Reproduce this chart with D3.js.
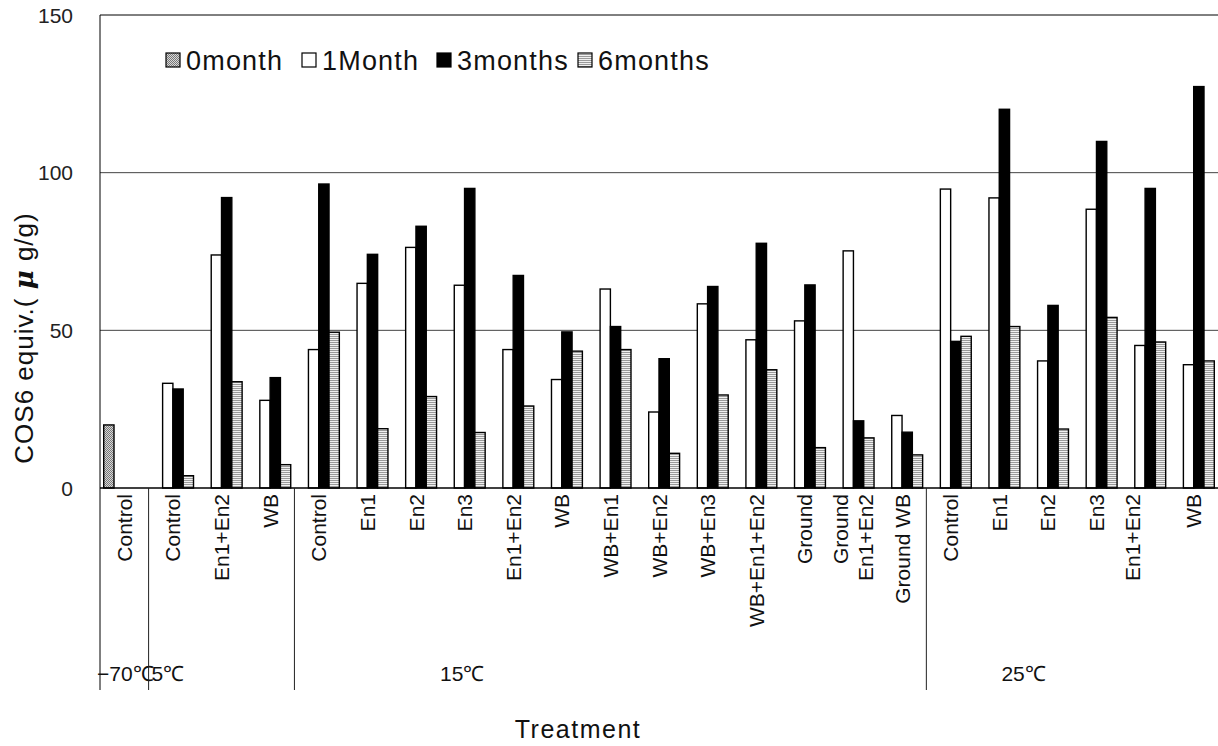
<!DOCTYPE html>
<html>
<head>
<meta charset="utf-8">
<script src="https://cdn.jsdelivr.net/npm/d3@7"></script>
<style>
  body { margin: 0; background: #fff; }
  svg { display: block; }
  text { font-family: "Liberation Sans", Arial, sans-serif; fill: #111; }
</style>
</head>
<body>
<svg id="chart" width="1218" height="746"></svg>
<script>
// Treatment labels (one entry per band; multi-line labels are arrays)
const categories = [
  "Control",
  "Control", "En1+En2", "WB",
  "Control", "En1", "En2", "En3", "En1+En2", "WB", "WB+En1", "WB+En2", "WB+En3",
  "WB+En1+En2", "Ground", ["Ground", "En1+En2"], "Ground WB",
  "Control", "En1", "En2", "En3", ["En1+En2", ""], "WB"
];

// Storage temperature groups and how many treatments each holds
const groupNames = ["\u221270\u2103", "5\u2103", "15\u2103", "25\u2103"];
const groupSizes = [1, 3, 13, 6];

const seriesNames = ["0month", "1Month", "3months", "6months"];

// COS6 equivalent (µg/g) per treatment
const month0 = [20, null, null, null, null, null, null, null, null, null, null, null, null, null, null, null, null, null, null, null, null, null, null];
const month1 = [null, 33.2, 73.9, 27.8, 43.9, 64.9, 76.3, 64.3, 43.9, 34.4, 63.1, 24.1, 58.4, 47.0, 53.0, 75.2, 23.0, 94.8, 92.0, 40.3, 88.4, 45.2, 39.1];
const month3 = [null, 31.4, 92.1, 35.0, 96.4, 74.1, 83.0, 95.0, 67.4, 49.5, 51.2, 41.0, 63.9, 77.6, 64.4, 21.3, 17.7, 46.5, 120.1, 57.9, 109.9, 95.0, 127.3];
const month6 = [null, 3.9, 33.7, 7.4, 49.4, 18.8, 29.0, 17.6, 26.0, 43.4, 43.9, 11.0, 29.5, 37.5, 12.8, 15.9, 10.5, 48.1, 51.2, 18.7, 54.1, 46.3, 40.3];

const yTicks = [0, 50, 100, 150];

const seriesValues = [month0, month1, month3, month6];

// ---- layout ----
const plot = { left: 100, right: 1218, top: 15, bottom: 488 };
const catAreaBottom = 690;
const groupLabelY = 673;
// band position (in band units) where each group's caption sits
const groupLabelBand = [null, null, 7.45, 19.0];
// legend swatch positions
const legendX = [166, 302, 437, 578];

const svg = d3.select("#chart");

const x = d3.scaleBand()
  .domain(d3.range(categories.length))
  .range([plot.left, plot.right])
  .padding(0);

const xs = d3.scaleBand()
  .domain(seriesNames)
  .range([0, x.bandwidth()])
  .paddingInner(0)
  .paddingOuter(0.36);

const y = d3.scaleLinear().domain([0, 150]).range([plot.bottom, plot.top]);

// ---- fill patterns ----
const defs = svg.append("defs");
const dots = defs.append("pattern")
  .attr("id", "dots").attr("patternUnits", "userSpaceOnUse")
  .attr("width", 2).attr("height", 2);
dots.append("rect").attr("width", 2).attr("height", 2).attr("fill", "#d8d8d8");
dots.append("rect").attr("width", 1).attr("height", 1).attr("fill", "#777");
dots.append("rect").attr("x", 1).attr("y", 1).attr("width", 1).attr("height", 1).attr("fill", "#777");

const stripes = defs.append("pattern")
  .attr("id", "stripes").attr("patternUnits", "userSpaceOnUse")
  .attr("width", 4).attr("height", 2);
stripes.append("rect").attr("width", 4).attr("height", 2).attr("fill", "#f0f0f0");
stripes.append("rect").attr("width", 4).attr("height", 1).attr("fill", "#9a9a9a");

const fills = {
  "0month": "url(#dots)",
  "1Month": "#ffffff",
  "3months": "#000000",
  "6months": "url(#stripes)"
};

// ---- gridlines ----
svg.append("g")
  .selectAll("line")
  .data(yTicks.filter(t => t > 0))
  .join("line")
  .attr("x1", plot.left).attr("x2", plot.right)
  .attr("y1", d => y(d)).attr("y2", d => y(d))
  .attr("stroke", d => d === 150 ? "#000" : "#444")
  .attr("stroke-width", 1);

// ---- bars ----
const barG = svg.append("g");
seriesNames.forEach((name, si) => {
  const data = seriesValues[si]
    .map((v, i) => ({ i, v }))
    .filter(d => d.v !== null);
  barG.append("g")
    .selectAll("rect")
    .data(data)
    .join("rect")
    .attr("x", d => x(d.i) + xs(name))
    .attr("width", xs.bandwidth())
    .attr("y", d => y(d.v))
    .attr("height", d => y(0) - y(d.v))
    .attr("fill", fills[name])
    .attr("stroke", "#000")
    .attr("stroke-width", 1.4);
});

// ---- axes lines ----
svg.append("line")
  .attr("x1", plot.left).attr("x2", plot.right)
  .attr("y1", y(0)).attr("y2", y(0))
  .attr("stroke", "#000").attr("stroke-width", 1.3);
svg.append("line")
  .attr("x1", plot.left).attr("x2", plot.left)
  .attr("y1", plot.top).attr("y2", catAreaBottom)
  .attr("stroke", "#000").attr("stroke-width", 1);

// ---- y tick labels ----
svg.append("g")
  .selectAll("text")
  .data(yTicks)
  .join("text")
  .attr("x", 73)
  .attr("y", d => y(d))
  .attr("dy", "0.36em")
  .attr("text-anchor", "end")
  .style("font-size", "21px")
  .style("fill", "#222")
  .text(d => d);

// ---- y title ----
const yTitle = svg.append("text")
  .attr("transform", "translate(33,338) rotate(-90)")
  .attr("text-anchor", "middle")
  .style("font-size", "26px")
  .style("letter-spacing", "1px");
yTitle.append("tspan").text("COS6 equiv.( ");
yTitle.append("tspan")
  .style("font-family", "'DejaVu Serif', serif")
  .style("font-style", "italic")
  .style("font-weight", "bold")
  .text("\u03bc");
yTitle.append("tspan").text(" g/g)");

// ---- category labels ----
const lineGap = 25;
const catG = svg.append("g");
categories.forEach((c, i) => {
  const lines = Array.isArray(c) ? c : [c];
  const cx = x(i) + x.bandwidth() / 2;
  lines.forEach((ln, li) => {
    const off = (li - (lines.length - 1) / 2) * lineGap;
    catG.append("text")
      .attr("transform", `translate(${cx + off},494) rotate(-90)`)
      .attr("text-anchor", "end")
      .attr("dy", "0.36em")
      .style("font-size", "21px")
      .text(ln);
  });
});

// ---- temperature groups ----
let start = 0;
const groupG = svg.append("g");
groupNames.forEach((g, gi) => {
  const x0 = x(start);
  if (gi > 0) {
    groupG.append("line")
      .attr("x1", x0).attr("x2", x0)
      .attr("y1", y(0)).attr("y2", catAreaBottom)
      .attr("stroke", "#222").attr("stroke-width", 1);
  }
  const t = groupG.append("text")
    .attr("y", groupLabelY)
    .attr("dy", "0.36em")
    .style("font-size", "21px")
    .text(g);
  if (groupLabelBand[gi] === null) {
    t.attr("x", x0 - 3 + (gi === 1 ? 6 : 0)).attr("text-anchor", "start");
  } else {
    t.attr("x", plot.left + groupLabelBand[gi] * x.step()).attr("text-anchor", "middle");
  }
  start += groupSizes[gi];
});

// ---- x title ----
svg.append("text")
  .attr("x", 578).attr("y", 738)
  .attr("text-anchor", "middle")
  .style("font-size", "25px")
  .style("letter-spacing", "1.5px")
  .text("Treatment");

// ---- legend ----
const legend = svg.append("g");
seriesNames.forEach((name, k) => {
  const lx = legendX[k];
  legend.append("rect")
    .attr("x", lx).attr("y", 53)
    .attr("width", 14).attr("height", 14)
    .attr("fill", fills[name])
    .attr("stroke", "#000").attr("stroke-width", 1.2);
  legend.append("text")
    .attr("x", lx + 20).attr("y", 60)
    .attr("dy", "0.36em")
    .style("font-size", "27px")
    .style("letter-spacing", "1.2px")
    .text(name);
});
</script>
</body>
</html>
